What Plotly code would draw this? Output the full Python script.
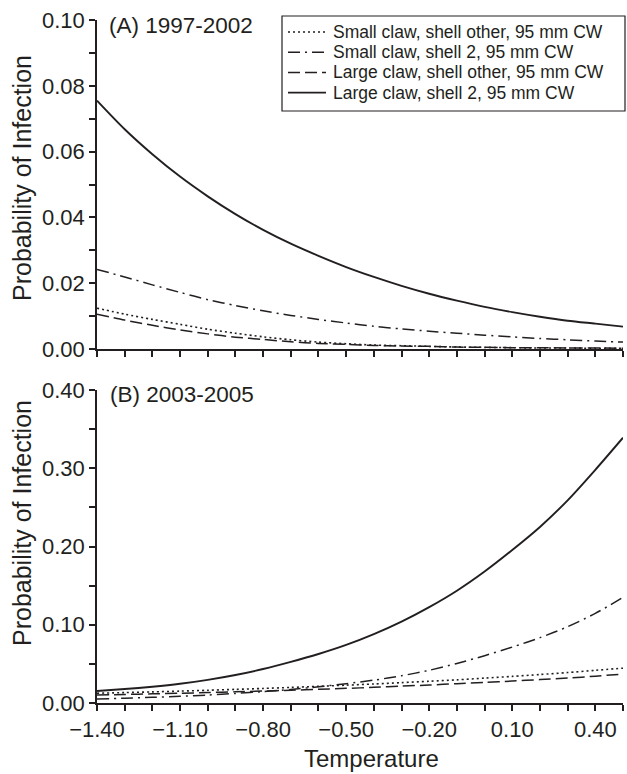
import plotly.graph_objects as go

# Temperature grid (every 0.1 from -1.4 to 0.5)
temperature = [-1.4, -1.3, -1.2, -1.1, -1.0, -0.9, -0.8, -0.7, -0.6, -0.5,
               -0.4, -0.3, -0.2, -0.1, 0.0, 0.1, 0.2, 0.3, 0.4, 0.5]

series_names = [
    "Small claw, shell other, 95 mm CW",
    "Small claw, shell 2, 95 mm CW",
    "Large claw, shell other, 95 mm CW",
    "Large claw, shell 2, 95 mm CW",
]

# (A) 1997-2002
a_small_other = [0.0124, 0.0106, 0.0090, 0.0075, 0.0060, 0.0048, 0.0037, 0.0028, 0.0021, 0.0016,
                 0.0012, 0.0010, 0.0008, 0.0006, 0.0005, 0.0004, 0.0003, 0.0003, 0.0002, 0.0002]
a_small_shell2 = [0.0242, 0.0219, 0.0195, 0.0172, 0.0150, 0.0132, 0.0116, 0.0102, 0.0090, 0.0079,
                  0.0069, 0.0061, 0.0054, 0.0048, 0.0042, 0.0037, 0.0032, 0.0028, 0.0024, 0.0021]
a_large_other = [0.0106, 0.0088, 0.0072, 0.0058, 0.0046, 0.0036, 0.0029, 0.0022, 0.0017, 0.0014,
                 0.0011, 0.0009, 0.0008, 0.0006, 0.0005, 0.0004, 0.0004, 0.0003, 0.0003, 0.0002]
a_large_shell2 = [0.0755, 0.0668, 0.0592, 0.0524, 0.0464, 0.0410, 0.0362, 0.0320, 0.0283, 0.0249,
                  0.0219, 0.0192, 0.0168, 0.0147, 0.0128, 0.0112, 0.0098, 0.0086, 0.0077, 0.0068]

# (B) 2003-2005
b_small_other = [0.0125, 0.0133, 0.0142, 0.0152, 0.0163, 0.0174, 0.0186, 0.0199, 0.0213, 0.0228,
                 0.0243, 0.0260, 0.0278, 0.0296, 0.0318, 0.0340, 0.0364, 0.0389, 0.0418, 0.0445]
b_small_shell2 = [0.0051, 0.0061, 0.0072, 0.0086, 0.0102, 0.0122, 0.0145, 0.0173, 0.0207, 0.0247,
                  0.0292, 0.0348, 0.0418, 0.0505, 0.0605, 0.0715, 0.0835, 0.0975, 0.1145, 0.1350]
b_large_other = [0.0102, 0.0109, 0.0117, 0.0125, 0.0133, 0.0143, 0.0153, 0.0163, 0.0175, 0.0187,
                 0.0200, 0.0216, 0.0230, 0.0247, 0.0262, 0.0280, 0.0299, 0.0318, 0.0343, 0.0368]
b_large_shell2 = [0.0153, 0.0178, 0.0208, 0.0246, 0.0296, 0.0358, 0.0434, 0.0525, 0.0626, 0.0742,
                  0.0880, 0.1040, 0.1225, 0.1435, 0.1680, 0.1955, 0.2250, 0.2590, 0.2980, 0.3390]

panel_titles = ["(A) 1997-2002", "(B) 2003-2005"]

INK = "#231f20"
FONT = "Liberation Sans, Arial, Helvetica, sans-serif"
dashes = ["2px,3px", "12px,5px,2px,5px", "12px,5px", "solid"]
widths = [1.6, 1.5, 1.5, 1.9]

W, H = 627, 774
L, R, T, B = 97, 4, 20, 71
PW, PH = W - L - R, H - T - B


def px(x):
    return (x - L) / PW


def py(y):
    return (H - B - y) / PH


fig = go.Figure()

panel_a = [a_small_other, a_small_shell2, a_large_other, a_large_shell2]
panel_b = [b_small_other, b_small_shell2, b_large_other, b_large_shell2]

for axes, panel in (("x", panel_a), ("x2", panel_b)):
    for i, ys in enumerate(panel):
        fig.add_trace(go.Scatter(
            x=temperature, y=ys, mode="lines", name=series_names[i],
            line=dict(color=INK, width=widths[i], dash=dashes[i],
                      shape="spline", smoothing=0.8),
            xaxis=axes, yaxis=axes.replace("x", "y"), showlegend=False))

axis_common = dict(showline=True, linecolor=INK, linewidth=1.5, ticks="outside",
                   ticklen=6, tickwidth=1.5, tickcolor=INK, showgrid=False, zeroline=False,
                   tickfont=dict(family=FONT, size=22, color=INK))

x_axis = dict(range=[-1.4, 0.5], tick0=-1.4, dtick=0.3, tickformat=".2f",
              minor=dict(dtick=0.1, tick0=-1.4, ticks="outside", ticklen=6, tickwidth=1.5,
                         tickcolor=INK, showgrid=False),
              **axis_common)

top_domain = [py(349), 1.0]
bottom_domain = [0.0, py(390)]

fig.update_layout(
    width=W, height=H,
    margin=dict(l=L, r=R, t=T, b=B),
    paper_bgcolor="white", plot_bgcolor="white",
    showlegend=False,
    xaxis=dict(domain=[0, 1], anchor="y", showticklabels=False, **x_axis),
    yaxis=dict(domain=top_domain, anchor="x", range=[0, 0.10], tick0=0, dtick=0.02,
               tickformat=".2f",
               minor=dict(dtick=0.01, ticks="outside", ticklen=6, tickwidth=1.5,
                          tickcolor=INK, showgrid=False),
               **axis_common),
    xaxis2=dict(domain=[0, 1], anchor="y2", **x_axis),
    yaxis2=dict(domain=bottom_domain, anchor="x2", range=[0, 0.40], tick0=0, dtick=0.10,
                tickformat=".2f",
                minor=dict(dtick=0.05, ticks="outside", ticklen=6, tickwidth=1.5,
                           tickcolor=INK, showgrid=False),
                **axis_common),
)

annotations = []
shapes = []

# Panel titles
annotations.append(dict(text=panel_titles[0], x=px(107), y=py(25), xref="paper", yref="paper",
                        xanchor="left", yanchor="middle", showarrow=False,
                        font=dict(family=FONT, size=22.5, color=INK)))
annotations.append(dict(text=panel_titles[1], x=px(108), y=py(394), xref="paper", yref="paper",
                        xanchor="left", yanchor="middle", showarrow=False,
                        font=dict(family=FONT, size=22.5, color=INK)))

# Axis titles
for yc in (178, 523):
    annotations.append(dict(text="Probability of Infection", x=px(22), y=py(yc),
                            xref="paper", yref="paper", textangle=-90,
                            xanchor="center", yanchor="middle", showarrow=False,
                            font=dict(family=FONT, size=25, color=INK)))
annotations.append(dict(text="Temperature", x=px(371), y=py(758), xref="paper", yref="paper",
                        xanchor="center", yanchor="middle", showarrow=False,
                        font=dict(family=FONT, size=24, color=INK)))

# Key box with line samples
shapes.append(dict(type="rect", xref="paper", yref="paper",
                   x0=px(282), x1=px(625), y0=py(111), y1=py(16),
                   line=dict(color=INK, width=1.2), fillcolor="white", layer="above"))
row_y = [32, 52.2, 72.4, 92.6]
for i, name in enumerate(series_names):
    shapes.append(dict(type="line", xref="paper", yref="paper",
                       x0=px(288), x1=px(326), y0=py(row_y[i]), y1=py(row_y[i]),
                       line=dict(color=INK, width=widths[i], dash=dashes[i]), layer="above"))
    annotations.append(dict(text=name, x=px(331), y=py(row_y[i]), xref="paper", yref="paper",
                            xanchor="left", yanchor="middle", showarrow=False,
                            font=dict(family=FONT, size=17.5, color=INK)))

fig.update_layout(annotations=annotations, shapes=shapes)

fig.write_html("out.html")
